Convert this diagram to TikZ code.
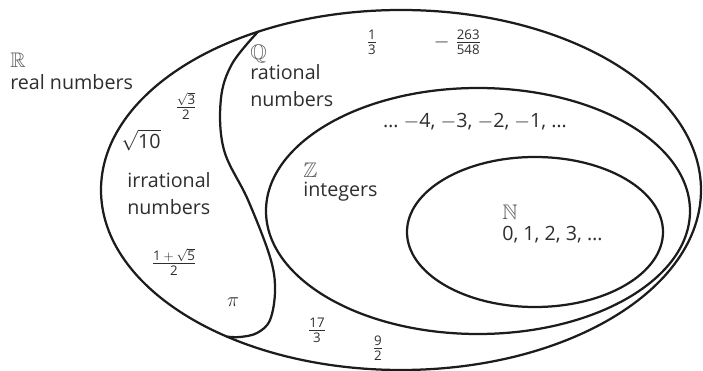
\documentclass[tikz,border=0pt]{standalone}
\usepackage{amsmath}
\usepackage{amssymb}
\usepackage{fontspec}
\setmainfont{Open Sans}
\usepackage{tikz}
\definecolor{setc}{HTML}{1C1C1C}
\definecolor{textc}{HTML}{2E2E2E}
\definecolor{symc}{HTML}{5A5A5A}
\tikzset{
  setline/.style={draw=setc, line width=1.6pt, line cap=round, line join=round},
  lbl/.style={text=textc, inner sep=0pt, font=\fontsize{14}{19}\selectfont},
  sym/.style={text=symc, inner sep=0pt, font=\fontsize{15}{19}\selectfont},
  num/.style={text=textc, inner sep=0pt, font=\fontsize{13.5}{15}\selectfont},
}
\begin{document}
\begin{tikzpicture}
\useasboundingbox (0,0) rectangle (17.575,-9.275);
\draw[setline] (10.025,-4.750) ellipse [x radius=7.5, y radius=4.5];
\draw[setline] plot[smooth, tension=0.6] coordinates {(6.450,-0.794) (5.800,-1.600) (5.520,-2.500) (5.600,-3.750) (6.200,-5.000) (6.750,-6.425) (6.875,-7.250) (6.750,-8.000) (6.425,-8.325) (6.000,-8.425) (5.675,-8.416)};
\draw[setline] (11.950,-5.275) ellipse [x radius=5.3, y radius=3.075];
\draw[setline] (13.375,-5.800) ellipse [x radius=3.2, y radius=1.875];
\node[sym, anchor=base west] (symR) at (0.250,-1.700) {$\mathbb{R}$};
\node[lbl, anchor=base west] (nameR) at (0.250,-2.250) {real numbers};
\node[num] (sqrtthree) at (4.650,-2.650) {$\frac{\sqrt{\text{3}}}{\text{2}}$};
\node[lbl] (sqrtten) at (3.525,-3.500) {$\sqrt{\text{10}}$};
\node[lbl, anchor=base west] (irrA) at (3.175,-4.700) {irrational};
\node[lbl, anchor=base west] (irrB) at (3.175,-5.375) {numbers};
\node[num] (golden) at (4.350,-6.550) {$\frac{\text{1}\mskip4mu+\mskip4mu\sqrt{\text{5}}}{\text{2}}$};
\node[lbl] (pi) at (5.825,-7.550) {$\pi$};
\node[sym, anchor=base west] (symQ) at (6.250,-1.500) {$\mathbb{Q}$};
\node[lbl, anchor=base west] (ratA) at (6.250,-2.000) {rational};
\node[lbl, anchor=base west] (ratB) at (6.250,-2.675) {numbers};
\node[num] (third) at (9.300,-1.050) {$\frac{\text{1}}{\text{3}}$};
\node[num] (negfrac) at (11.440,-1.050) {$-\;\frac{\text{263}}{\text{548}}$};
\node[num] (seventeen) at (7.925,-8.250) {$\frac{\text{17}}{\text{3}}$};
\node[num] (ninehalf) at (9.450,-8.700) {$\frac{\text{9}}{\text{2}}$};
\node[lbl] (negints) at (11.875,-3.050) {\dots\ $-$4, $-$3, $-$2, $-$1, \dots};
\node[sym, anchor=base west] (symZ) at (7.575,-4.450) {$\mathbb{Z}$};
\node[lbl, anchor=base west] (nameZ) at (7.575,-4.925) {integers};
\node[sym, anchor=base west] (symN) at (12.550,-5.500) {$\mathbb{N}$};
\node[lbl, anchor=base west] (natnums) at (12.550,-6.025) {0, 1, 2, 3, \dots};
\end{tikzpicture}
\end{document}
